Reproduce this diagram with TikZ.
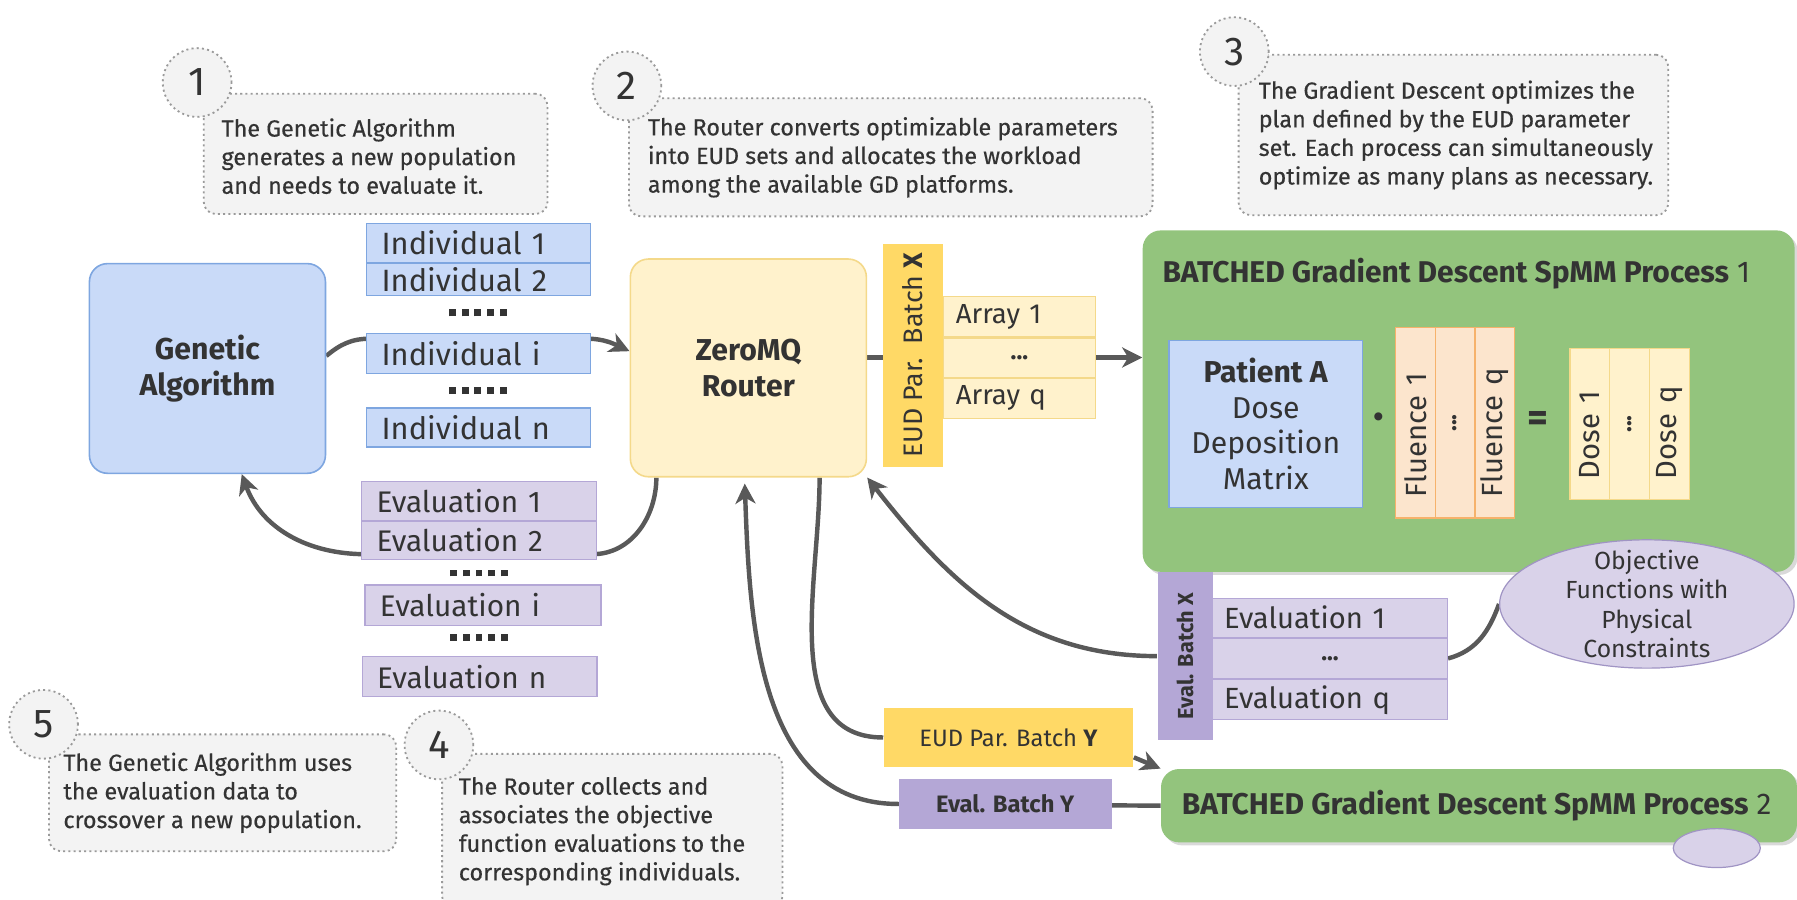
\documentclass[tikz,border=0pt]{standalone}
\usepackage{fontspec}
\setmainfont{Fira Sans}
\newfontfamily\notefont{Fira Sans}[FakeBold=0.4]
\usetikzlibrary{arrows.meta}
\usetikzlibrary{calc}
\usetikzlibrary{positioning}
\usetikzlibrary{shapes.geometric}
\usetikzlibrary{backgrounds}
\usetikzlibrary{shadows}

\definecolor{inkgray}{HTML}{333333}
\definecolor{wiregray}{HTML}{595959}
\definecolor{notefill}{HTML}{F3F3F3}
\definecolor{notedraw}{HTML}{9A9A9A}
\definecolor{bluefill}{HTML}{C9DAF8}
\definecolor{bluedraw}{HTML}{7EA6E0}
\definecolor{yellowfill}{HTML}{FFF2CC}
\definecolor{yellowdraw}{HTML}{F4D98A}
\definecolor{yellowdark}{HTML}{FFD966}
\definecolor{greenfill}{HTML}{93C47D}
\definecolor{purplefill}{HTML}{D9D2E9}
\definecolor{purpledraw}{HTML}{B4A7D6}
\definecolor{purpledark}{HTML}{B4A7D6}
\definecolor{purpleline}{HTML}{A094C4}
\definecolor{orangefill}{HTML}{FCE5CD}
\definecolor{orangedraw}{HTML}{F6B26B}

\newcommand*\fsz[2]{\fontsize{#1}{#2}\selectfont}
\newcommand*\sqdot{\rule{3.4pt}{3.4pt}}
\newcommand*\sqdots{\sqdot\hspace{2.9pt}\sqdot\hspace{2.9pt}\sqdot\hspace{2.9pt}\sqdot\hspace{2.9pt}\sqdot}

\begin{document}
\begin{tikzpicture}[x=0.02cm, y=-0.02cm, text=inkgray,
    wire/.style={draw=wiregray, line width=2.2pt},
    arrowwire/.style={wire, -{Stealth[length=10pt, width=10pt, inset=3pt]}},
    notebox/.style={draw=notedraw, dash pattern=on 1pt off 1.6pt, fill=notefill, rounded corners=6pt, line width=0.9pt, anchor=north west},
    notetext/.style={anchor=west, align=left, inner sep=0pt, font=\notefont\fsz{11.6}{14.2}},
    stepnum/.style={circle, draw=notedraw, dash pattern=on 1pt off 1.6pt, fill=notefill, minimum size=1.2cm, inner sep=0pt, line width=0.9pt, font=\fsz{20}{20}},
    mainbox/.style={draw, rounded corners=9pt, line width=0.8pt, align=center, inner sep=0pt, font=\bfseries\fsz{15}{18}},
    cell/.style={draw, rectangle, line width=0.6pt, inner ysep=0pt, inner xsep=0.26cm, align=left, font=\fsz{14.5}{16}},
    indcell/.style={cell, fill=bluefill, draw=bluedraw, minimum width=3.9cm, text width=3.38cm, font=\fsz{15.3}{16}},
    evcell/.style={cell, fill=purplefill, draw=purpledraw, minimum width=4.1cm, text width=3.58cm, font=\fsz{14.8}{16}},
    arrcell/.style={cell, fill=yellowfill, draw=yellowdraw, minimum width=2.66cm, text width=2.22cm, inner xsep=0.22cm, font=\fsz{13.7}{15}},
    evxcell/.style={cell, fill=purplefill, draw=purpledraw, minimum width=4.1cm, text width=3.7cm, inner xsep=0.2cm},
    midcell/.style={align=center, font=\bfseries\fsz{12}{14}},
    gapdots/.style={inner sep=0pt},
    upright/.style={rotate=90, draw, rectangle, line width=0.6pt, inner ysep=0pt, inner xsep=0.36cm, align=left, font=\fsz{14.5}{16}},
    gdbox/.style={fill=greenfill, rounded corners=9pt, drop shadow={shadow xshift=1.5pt, shadow yshift=-1.5pt, opacity=0.3}},
    gdtitle/.style={anchor=west, inner sep=0pt, font=\fsz{14.9}{16}},
  ]
  \useasboundingbox (0,0) rectangle (1568,785);

  % Callouts
  \node (note1) [notebox, minimum width=6.0cm, minimum height=2.1cm] at (177,81) {};
  \node (note1txt) [notetext] at ($(note1.west)+(16,2)$) {The Genetic Algorithm\\generates a new population\\and needs to evaluate it.};
  \node (num1) [stepnum] at (172,72) {1};

  \node (note2) [notebox, minimum width=9.14cm, minimum height=2.06cm] at (548,85) {};
  \node (note2txt) [notetext] at ($(note2.west)+(17,0)$) {The Router converts optimizable parameters\\into EUD sets and allocates the workload\\among the available GD platforms.};
  \node (num2) [stepnum] at (547,75) {2};

  \node (note3) [notebox, minimum width=7.5cm, minimum height=2.8cm] at (1080,47) {};
  \node (note3txt) [notetext] at ($(note3.west)+(18,0)$) {The Gradient Descent optimizes the\\plan defined by the EUD parameter\\set. Each process can simultaneously\\optimize as many plans as necessary.};
  \node (num3) [stepnum] at (1077,45) {3};

  \node (note5) [notebox, minimum width=6.06cm, minimum height=2.04cm] at (42,640) {};
  \node (note5txt) [notetext] at ($(note5.west)+(13,0)$) {The Genetic Algorithm uses\\the evaluation data to\\crossover a new population.};
  \node (num5) [stepnum] at (38,632) {5};

  \node (note4) [notebox, minimum width=5.94cm, minimum height=2.7cm] at (385,657) {};
  \node (note4txt) [notetext] at ($(note4.west)+(15,0)$) {The Router collects and\\associates the objective\\function evaluations to the\\corresponding individuals.};
  \node (num4) [stepnum] at (383,650) {4};

  % Genetic algorithm and router
  \node (ga) [mainbox, fill=bluefill, draw=bluedraw, minimum width=4.12cm, minimum height=3.66cm] at (181,321.5) {Genetic\\Algorithm};
  \node (router) [mainbox, fill=yellowfill, draw=yellowdraw, minimum width=4.12cm, minimum height=3.8cm] at (653,321) {ZeroMQ\\Router};

  % Population
  \node (ind1) [indcell, minimum height=0.68cm] at (417.5,212) {Individual 1};
  \node (ind2) [indcell, minimum height=0.56cm, below=0pt of ind1] {Individual 2};
  \node (inddots1) [gapdots] at (417,273) {\sqdots};
  \node (indi) [indcell, minimum height=0.7cm] at (417.5,308.5) {Individual i};
  \node (inddots2) [gapdots] at (417,341) {\sqdots};
  \node (indn) [indcell, minimum height=0.68cm] at (417.5,373) {Individual n};

  % Evaluations back to the GA
  \node (ev1) [evcell, minimum height=0.68cm] at (418,437) {Evaluation 1};
  \node (ev2) [evcell, minimum height=0.66cm, below=0pt of ev1] {Evaluation 2};
  \node (evdots1) [gapdots] at (418,500) {\sqdots};
  \node (evi) [evcell, minimum width=4.12cm, text width=3.6cm, minimum height=0.7cm] at (421.5,528) {Evaluation i};
  \node (evdots2) [gapdots] at (418,556) {\sqdots};
  \node (evn) [evcell, minimum height=0.7cm] at (418.5,590.5) {Evaluation n};

  % EUD batch X
  \node (eudx) [upright, fill=yellowdark, draw=none, minimum width=3.9cm, minimum height=1.04cm, inner xsep=0.1cm, align=center, font=\fsz{13.3}{14}] at (796.5,310) {EUD Par.\ \ Batch \textbf{X}};
  \node (arr1) [arrcell, minimum height=0.7cm] at (889.5,276.5) {Array 1};
  \node (arrdots) [arrcell, midcell, minimum height=0.68cm, below=0pt of arr1] {...};
  \node (arrq) [arrcell, minimum height=0.7cm, below=0pt of arrdots] {Array q};

  % Gradient descent process 1
  \node (gd1) [gdbox, minimum width=11.38cm, minimum height=5.96cm] at (1281.5,350) {};
  \node (gd1title) [gdtitle] at (1014,239) {\textbf{BATCHED Gradient Descent SpMM Process} 1};
  \node (patient) [draw=bluedraw, fill=bluefill, rectangle, line width=0.6pt, minimum width=3.38cm, minimum height=2.92cm, inner sep=0pt, align=center, font=\fsz{15}{17.6}] at (1104.5,370) {\textbf{Patient A}\\Dose\\Deposition\\Matrix};
  \node (times) [inner sep=0pt, font=\bfseries\fsz{22}{22}] at (1203,368) {·};
  \node (flu1) [upright, fill=orangefill, draw=orangedraw, minimum width=3.32cm, minimum height=0.693cm, text width=2.6cm] at (1235.3,369) {Fluence 1};
  \node (fludots) [upright, fill=orangefill, draw=orangedraw, minimum width=3.32cm, minimum height=0.693cm, midcell] at (1269.7,369) {...};
  \node (fluq) [upright, fill=orangefill, draw=orangedraw, minimum width=3.32cm, minimum height=0.693cm, text width=2.6cm] at (1304.3,369) {Fluence q};
  \node (equals) [inner sep=0pt, font=\bfseries\fsz{20}{20}] at (1342,368) {=};
  \node (dose1) [upright, fill=yellowfill, draw=yellowdraw, minimum width=2.64cm, minimum height=0.693cm, text width=1.92cm] at (1387.3,370) {Dose 1};
  \node (dosedots) [upright, fill=yellowfill, draw=yellowdraw, minimum width=2.64cm, minimum height=0.693cm, midcell] at (1422,370) {...};
  \node (doseq) [upright, fill=yellowfill, draw=yellowdraw, minimum width=2.64cm, minimum height=0.693cm, text width=1.92cm] at (1456.7,370) {Dose q};

  % Objective functions
  \node (obj) [ellipse, fill=purplefill, draw=purpleline, line width=0.6pt, minimum width=5.14cm, minimum height=2.24cm, inner sep=0pt] at (1437,527) {};
  \node (objtxt) [align=center, inner sep=0pt, font=\fsz{12.3}{14.6}] at (obj) {Objective\\Functions with\\Physical\\Constraints};

  % Evaluation batch X
  \node (evxbar) [upright, fill=purpledark, draw=none, minimum width=2.94cm, minimum height=0.96cm, inner xsep=0.1cm, align=center, font=\bfseries\fsz{10.8}{12}] at (1034,572.5) {Eval. Batch X};
  \node (evx1) [evxcell, minimum height=0.68cm] at (1160.5,539) {Evaluation 1};
  \node (evxdots) [evxcell, midcell, minimum height=0.7cm, below=0pt of evx1] {...};
  \node (evxq) [evxcell, minimum height=0.7cm, below=0pt of evxdots] {Evaluation q};

  % Batch Y and process 2
  \node (eudy) [fill=yellowdark, rectangle, minimum width=4.36cm, minimum height=1.02cm, inner sep=0pt, font=\fsz{11.8}{13}] at (880,643.5) {EUD Par. Batch \textbf{Y}};
  \node (evaly) [fill=purpledark, rectangle, minimum width=3.72cm, minimum height=0.86cm, inner sep=0pt, font=\bfseries\fsz{11.8}{13}] at (877,701.5) {Eval. Batch Y};
  \node (gd2) [gdbox, minimum width=11.1cm, minimum height=1.28cm] at (1290.5,703) {};
  \node (gd2title) [gdtitle] at (1031,703) {\textbf{BATCHED Gradient Descent SpMM Process} 2};
  \node (objsmall) [ellipse, fill=purplefill, draw=purpleline, line width=0.6pt, minimum width=1.52cm, minimum height=0.68cm, inner sep=0pt] at (1498,740) {};

  % Draw arrows (behind the boxes)
  \begin{scope}[on background layer]
    \draw[arrowwire] (ga.6) to[out=40, in=180] ($(indi.north west)+(4,5)$) -- ($(indi.north east)+(-4,5)$) to[out=0, in=155] (router.172);
    \draw[arrowwire] (router.5) -- (router.5 -| gd1.west);
    \draw[arrowwire] (router.-130) to[out=-90, in=0] ($(ev2.south east)+(-4,-5)$) -- ($(ev2.south west)+(4,-5)$) to[out=180, in=-70] (ga.-72);
    \draw[wire] (router.-57) to[out=-90, in=180] (eudy.west);
    \draw[arrowwire] (eudy.-9) -- (gd2.north west);
    \draw[arrowwire, shorten >=3pt] (gd2.west) -- (evaly.west) to[out=180, in=-88] (router.-92);
    \draw[arrowwire] (evxbar.north) to[out=180, in=-52] (router.south east);
    \draw[wire] (evxdots.east) to[out=15, in=-110] (obj.west);
  \end{scope}

\end{tikzpicture}
\end{document}
